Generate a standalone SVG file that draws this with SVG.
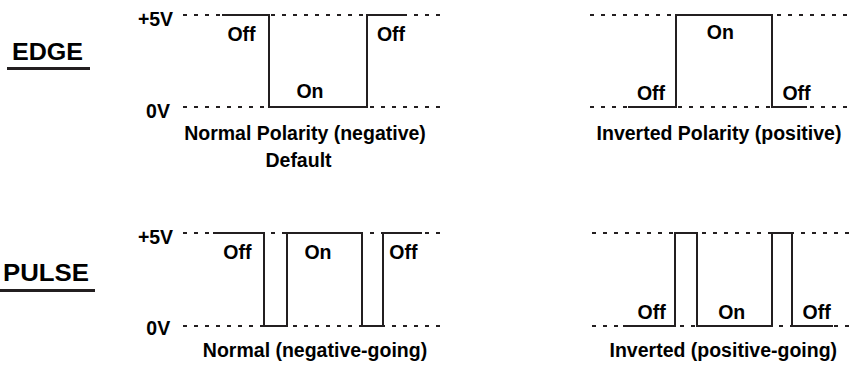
<svg xmlns="http://www.w3.org/2000/svg" width="850" height="365" viewBox="0 0 850 365">
<style>
  text { font-family: "Liberation Sans", Arial, sans-serif; font-weight: bold; fill: #000; }
  .lbl { font-size: 19.5px; text-anchor: middle; }
  .ttl { font-size: 24px; }
  .dash { stroke: #231f20; stroke-width: 2; stroke-dasharray: 4 7; fill: none; }
  .wave { stroke: #231f20; stroke-width: 2; fill: none; stroke-linejoin: miter; }
  .ul { stroke: #231f20; stroke-width: 3; }
</style>
<rect width="850" height="365" fill="#fff"/>

<g id="title-edge">
  <text class="ttl" x="12" y="60" textLength="71" lengthAdjust="spacingAndGlyphs">EDGE</text>
  <line class="ul" x1="7" y1="68.5" x2="90" y2="68.5"/>
</g>
<g id="title-pulse">
  <text class="ttl" x="3" y="281" textLength="86" lengthAdjust="spacingAndGlyphs">PULSE</text>
  <line class="ul" x1="0" y1="290.5" x2="95" y2="290.5"/>
</g>

<g id="edge-normal">
  <line class="dash" x1="183" y1="15" x2="443" y2="15"/>
  <line class="dash" x1="183" y1="107" x2="443" y2="107"/>
  <polyline class="wave" points="222,15 269,15 269,107 367,107 367,15 407,15"/>
  <text class="lbl" x="155.5" y="26">+5V</text>
  <text class="lbl" x="158" y="117.5">0V</text>
  <text class="lbl" x="241.5" y="41">Off</text>
  <text class="lbl" x="310" y="97.5">On</text>
  <text class="lbl" x="391" y="41">Off</text>
  <text class="lbl" x="305" y="140">Normal Polarity (negative)</text>
  <text class="lbl" x="298.5" y="166.5">Default</text>
</g>

<g id="edge-inverted">
  <line class="dash" x1="590" y1="15" x2="847" y2="15"/>
  <line class="dash" x1="590" y1="107" x2="847" y2="107"/>
  <polyline class="wave" points="628,107 676,107 676,15 772,15 772,107 807,107"/>
  <text class="lbl" x="720.3" y="38.5">On</text>
  <text class="lbl" x="651" y="100">Off</text>
  <text class="lbl" x="796.5" y="100">Off</text>
  <text class="lbl" x="719" y="140">Inverted Polarity (positive)</text>
</g>

<g id="pulse-normal">
  <line class="dash" x1="183" y1="233" x2="443" y2="233"/>
  <line class="dash" x1="183" y1="326" x2="443" y2="326"/>
  <polyline class="wave" points="213,233 264,233 264,326 287,326 287,233 362,233 362,326 383,326 383,233 422,233"/>
  <text class="lbl" x="155.5" y="243.5">+5V</text>
  <text class="lbl" x="158.3" y="335">0V</text>
  <text class="lbl" x="237.3" y="258.5">Off</text>
  <text class="lbl" x="318" y="258.5">On</text>
  <text class="lbl" x="403.3" y="258.5">Off</text>
  <text class="lbl" x="315" y="357">Normal (negative-going)</text>
</g>

<g id="pulse-inverted">
  <line class="dash" x1="592" y1="233" x2="850" y2="233"/>
  <line class="dash" x1="592" y1="326" x2="850" y2="326"/>
  <polyline class="wave" points="623,326 675,326 675,233 697,233 697,326 772,326 772,233 792,233 792,326 833,326"/>
  <text class="lbl" x="651.7" y="318.5">Off</text>
  <text class="lbl" x="731.7" y="318.5">On</text>
  <text class="lbl" x="816.7" y="318.5">Off</text>
  <text class="lbl" x="723.3" y="357">Inverted (positive-going)</text>
</g>
</svg>
